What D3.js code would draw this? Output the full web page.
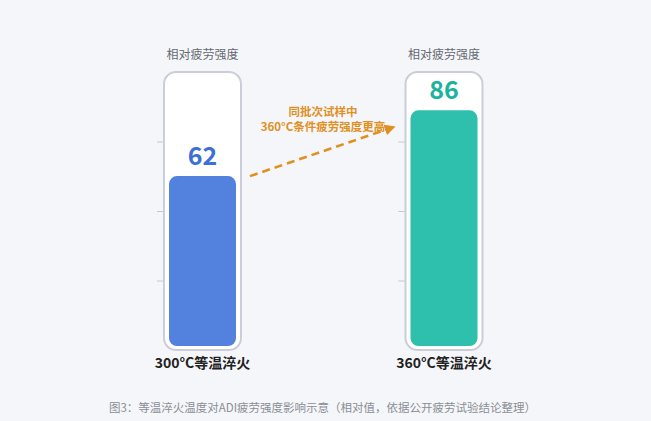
<!DOCTYPE html>
<html>
<head>
<meta charset="utf-8">
<script src="https://cdn.jsdelivr.net/npm/d3@7"></script>
<style>
  html, body { margin: 0; padding: 0; background: #f5f6fa; }
  svg { display: block; font-family: "Noto Sans CJK SC", "Noto Sans", sans-serif; }
</style>
</head>
<body>
<svg id="chart" width="651" height="421"></svg>
<script>
const categories = ['300°C等温淬火', '360°C等温淬火'];
const values = [62, 86];
const colors = ['#5281de', '#2ebfad'];
const labelColors = ['#3d6fd6', '#1bb29e'];
const ticks = [25, 50, 75];
const headerText = '相对疲劳强度';
const noteLines = ['同批次试样中', '360°C条件疲劳强度更高'];
const caption = '图3：等温淬火温度对ADI疲劳强度影响示意（相对值，依据公开疲劳试验结论整理）';

const svg = d3.select('#chart');
const width = 651;

const tubeW = 77;
const pad = 5;
const tubeTop = 72;
const tubeBottom = 350;

// x positions for the two tubes
const xScale = d3.scalePoint().domain(categories).range([202.5, 444]);
// bar fill scale (inside the tube) and tube gauge scale for the tick marks
const yScale = d3.scaleLinear().domain([0, 100]).range([346, 72]);
const gauge = d3.scaleLinear().domain([0, 100]).range([tubeBottom, tubeTop]);

const data = categories.map((c, i) => ({ cat: c, value: values[i], color: colors[i], lc: labelColors[i] }));

const g = svg.append('g');

const tube = g.selectAll('.tube').data(data).join('g')
  .attr('class', 'tube')
  .attr('transform', (d) => `translate(${xScale(d.cat)},0)`);

// tick marks to the left of each tube
tube.each(function () {
  const axis = d3.axisLeft(gauge).tickValues(ticks).tickSize(7).tickFormat('');
  const ax = d3.select(this).append('g')
    .attr('transform', `translate(${-tubeW / 2},0)`)
    .call(axis);
  ax.select('.domain').remove();
  ax.selectAll('line').attr('stroke', '#c3c8d2').attr('stroke-width', 1);
});

tube.append('rect')
  .attr('x', -tubeW / 2)
  .attr('y', tubeTop)
  .attr('width', tubeW)
  .attr('height', tubeBottom - tubeTop)
  .attr('rx', 12)
  .attr('fill', '#ffffff')
  .attr('stroke', '#c9ced9')
  .attr('stroke-width', 2);

tube.append('rect')
  .attr('x', -tubeW / 2 + pad)
  .attr('y', (d) => yScale(d.value))
  .attr('width', tubeW - pad * 2)
  .attr('height', (d) => yScale(0) - yScale(d.value))
  .attr('rx', 8)
  .attr('fill', (d) => d.color);

tube.append('text')
  .attr('y', (d) => yScale(d.value) - 11)
  .attr('text-anchor', 'middle')
  .attr('font-size', 25)
  .attr('font-weight', 700)
  .attr('fill', (d) => d.lc)
  .text((d) => d.value);

tube.append('text')
  .attr('y', 59)
  .attr('text-anchor', 'middle')
  .attr('font-size', 12)
  .attr('fill', '#666a70')
  .text(headerText);

tube.append('text')
  .attr('y', 368)
  .attr('text-anchor', 'middle')
  .attr('font-size', 14)
  .attr('font-weight', 700)
  .attr('fill', '#222')
  .text((d) => d.cat);

// dashed arrow from bar 1 to bar 2
const arrowColor = '#e0901f';
svg.append('defs').append('marker')
  .attr('id', 'arrowhead')
  .attr('viewBox', '0 0 10 10')
  .attr('refX', 8)
  .attr('refY', 5)
  .attr('markerWidth', 4.2)
  .attr('markerHeight', 4.2)
  .attr('orient', 'auto')
  .append('path')
  .attr('d', 'M0,0 L10,5 L0,10 Z')
  .attr('fill', arrowColor);

const x1 = xScale(categories[0]) + tubeW / 2 + 9;
const x2 = xScale(categories[1]) - tubeW / 2 - 12;
svg.append('line')
  .attr('x1', x1)
  .attr('y1', yScale(values[0]))
  .attr('x2', x2)
  .attr('y2', yScale(values[0]) - 49)
  .attr('stroke', arrowColor)
  .attr('stroke-width', 2.6)
  .attr('stroke-dasharray', '8,5')
  .attr('marker-end', 'url(#arrowhead)');

svg.append('text')
  .attr('x', 323)
  .attr('text-anchor', 'middle')
  .attr('font-size', 11.5)
  .attr('font-weight', 700)
  .attr('fill', arrowColor)
  .selectAll('tspan').data(noteLines).join('tspan')
  .attr('x', 323)
  .attr('y', (d, i) => 116 + i * 15)
  .text((d) => d);

svg.append('text')
  .attr('x', width / 2 - 3)
  .attr('y', 412)
  .attr('text-anchor', 'middle')
  .attr('font-size', 11.5)
  .attr('fill', '#8a8e95')
  .text(caption);
</script>
</body>
</html>
